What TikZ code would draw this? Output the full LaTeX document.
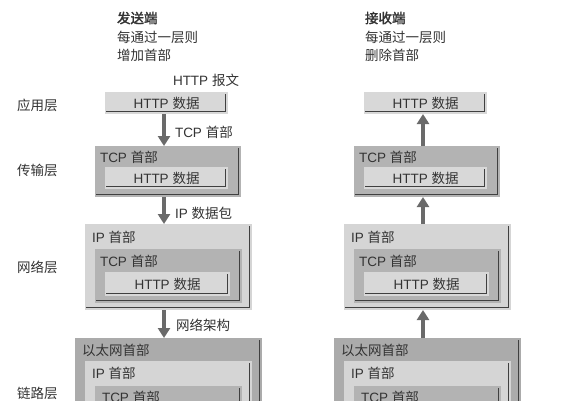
\documentclass[tikz,border=0pt]{standalone}
\usepackage{fontspec}
\setmainfont{Liberation Sans}
\newfontfamily\cjk{Noto Sans CJK SC}
\newfontfamily\cjkb{Noto Sans CJK SC}[FakeBold=2]
\usetikzlibrary{arrows.meta}
\definecolor{txtc}{HTML}{333333}
\definecolor{lightA}{HTML}{D8D8D8}
\definecolor{midT}{HTML}{B3B3B3}
\definecolor{lightI}{HTML}{D5D5D5}
\definecolor{darkE}{HTML}{ABABAB}
\definecolor{edgec}{HTML}{404040}
\definecolor{arrc}{HTML}{6A6A6A}
\tikzset{
  every node/.style={text=txtc, font=\fontsize{13.5bp}{16bp}\selectfont, inner sep=0pt, outer sep=0pt},
  lbl/.style={anchor=west},
  shbox/.style={rectangle, anchor=north west, fill=#1,
    path picture={\draw[line width=1.8bp, draw=edgec]
      ([xshift=-2.5bp,yshift=-2bp]path picture bounding box.north east) --
      ([xshift=-2.5bp,yshift=2.5bp]path picture bounding box.south east) --
      ([xshift=1bp,yshift=2.5bp]path picture bounding box.south west);}},
  sz/.style 2 args={minimum width=#1bp, minimum height=#2bp},
  arr/.style={draw=arrc, line width=4bp, -{Triangle[width=12bp,length=10bp]}}
}
\begin{document}
\begin{tikzpicture}[x=1bp,y=-1bp]
\useasboundingbox (0,0) rectangle (576,400);
\clip (0,0) rectangle (576,400);
\fill[white] (0,0) rectangle (576,400);

% headers
\node[lbl] (hl1) at (117,18) {\cjkb 发送端};
\node[lbl] (hl2) at (117,37) {\cjk 每通过一层则};
\node[lbl] (hl3) at (117,55) {\cjk 增加首部};
\node[lbl] (hr1) at (365,18) {\cjkb 接收端};
\node[lbl] (hr2) at (365,37) {\cjk 每通过一层则};
\node[lbl] (hr3) at (365,55) {\cjk 删除首部};

% layer labels
\node[lbl] (l1) at (17,105) {\cjk 应用层};
\node[lbl] (l2) at (17,170) {\cjk 传输层};
\node[lbl] (l3) at (17,267) {\cjk 网络层};
\node[lbl] (l4) at (17,393) {\cjk 链路层};

% ---------- left column ----------
\node[lbl] (msg) at (173,80) {HTTP \cjk 报文};
\node[shbox=lightA, sz={123}{22}] (LA) at (105,92) {HTTP \cjk 数据};

\node[shbox=midT, sz={146}{51}] (LT) at (95,146) {};
\node[lbl] (LTh) at (100,157) {TCP \cjk 首部};
\node[shbox=lightA, sz={123}{22}] (LTa) at (105,167) {HTTP \cjk 数据};

\node[shbox=lightI, sz={167}{86}] (LI) at (85,224) {};
\node[lbl] (LIh) at (92,237) {IP \cjk 首部};
\node[shbox=midT, sz={147}{54}] (LIt) at (95,249) {};
\node[lbl] (LIth) at (100,261) {TCP \cjk 首部};
\node[shbox=lightA, sz={125}{24}] (LIta) at (105,272) {HTTP \cjk 数据};

\node[shbox=darkE, sz={187}{100}] (LE) at (75,338) {};
\node[lbl] (LEh) at (82,350) {\cjk 以太网首部};
\node[shbox=lightI, sz={167}{80}] (LEi) at (85,361) {};
\node[lbl] (LEih) at (92,373) {IP \cjk 首部};
\node[shbox=midT, sz={147}{60}] (LEit) at (95,386) {};
\node[lbl] (LEith) at (102,397) {TCP \cjk 首部};

\draw[arr] ([xshift=-2.5bp]LA.south) -- ([xshift=-2.5bp]LA.south |- LT.north);
\draw[arr] ([xshift=-2.5bp]LA.south |- LT.south) -- ([xshift=-2.5bp]LA.south |- LI.north);
\draw[arr] ([xshift=-2.5bp]LA.south |- LI.south) -- ([xshift=-2.5bp]LA.south |- LE.north);
\node[lbl] (a1) at (175,132) {TCP \cjk 首部};
\node[lbl] (a2) at (175,213) {IP \cjk 数据包};
\node[lbl] (a3) at (176,325) {\cjk 网络架构};

% ---------- right column ----------
\node[shbox=lightA, sz={123}{22}] (RA) at (364,92) {HTTP \cjk 数据};

\node[shbox=midT, sz={146}{51}] (RT) at (354,146) {};
\node[lbl] (RTh) at (359,157) {TCP \cjk 首部};
\node[shbox=lightA, sz={123}{22}] (RTa) at (364,167) {HTTP \cjk 数据};

\node[shbox=lightI, sz={167}{86}] (RI) at (344,224) {};
\node[lbl] (RIh) at (351,237) {IP \cjk 首部};
\node[shbox=midT, sz={147}{54}] (RIt) at (354,249) {};
\node[lbl] (RIth) at (359,261) {TCP \cjk 首部};
\node[shbox=lightA, sz={125}{24}] (RIta) at (364,272) {HTTP \cjk 数据};

\node[shbox=darkE, sz={187}{100}] (RE) at (334,338) {};
\node[lbl] (REh) at (341,350) {\cjk 以太网首部};
\node[shbox=lightI, sz={167}{80}] (REi) at (344,361) {};
\node[lbl] (REih) at (351,373) {IP \cjk 首部};
\node[shbox=midT, sz={147}{60}] (REit) at (354,386) {};
\node[lbl] (REith) at (361,397) {TCP \cjk 首部};

\draw[arr] ([xshift=-2.5bp]RA.south |- RT.north) -- ([xshift=-2.5bp]RA.south);
\draw[arr] ([xshift=-2.5bp]RA.south |- RI.north) -- ([xshift=-2.5bp]RA.south |- RT.south);
\draw[arr] ([xshift=-2.5bp]RA.south |- RE.north) -- ([xshift=-2.5bp]RA.south |- RI.south);
\end{tikzpicture}
\end{document}
